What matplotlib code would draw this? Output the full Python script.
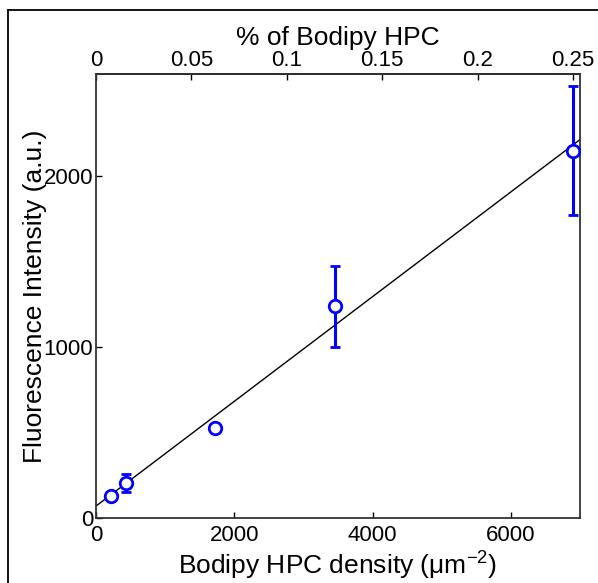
import matplotlib
matplotlib.use("Agg")
from matplotlib import pyplot as plt
from matplotlib.lines import Line2D

plt.rcParams["font.family"] = ["Liberation Sans", "DejaVu Sans"]
plt.rcParams["mathtext.default"] = "regular"

# data
pct_hpc = [0.0078125, 0.015625, 0.0625, 0.125, 0.25]
density = [216, 431, 1725, 3450, 6900]
intensity = [130, 205, 526, 1240, 2150]
intensity_err = [0, 50, 0, 237, 377]

fit_x = [0, 7000]
fit_y = [70, 2216]

PCT_TO_DENSITY = 27600.0

fig = plt.figure(figsize=(5.98, 5.83), dpi=100)
ax = fig.add_axes([96 / 598, 65 / 583, 484 / 598, 444 / 583])

# frame around the figure (cut at the right and bottom, like the reference)
W, H = 598.0, 583.0
fig.add_artist(Line2D([8 / W, 8 / W], [0, 1 - 10 / H], transform=fig.transFigure,
                      color="k", lw=1.3))
fig.add_artist(Line2D([8 / W, 1], [1 - 10 / H, 1 - 10 / H], transform=fig.transFigure,
                      color="k", lw=1.3))

ax.plot(fit_x, fit_y, color="k", lw=1.0, zorder=2)
ax.errorbar(density, intensity, yerr=intensity_err, fmt="o", color="#0000ff",
            mfc="white", mec="#0000ff", ms=9, mew=2, elinewidth=2.2,
            capsize=3.3, capthick=2.2, zorder=3)

ax.set_xlim(0, 7000)
ax.set_ylim(0, 2600)
ax.set_xticks([0, 2000, 4000, 6000])
ax.set_yticks([0, 1000, 2000])
ax.tick_params(direction="in", length=4, width=1, labelsize=16, pad=3)
ax.tick_params(axis="x", pad=5)
ax.tick_params(axis="y", right=False, pad=2)
for s in ax.spines.values():
    s.set_linewidth(1.3)
    s.set_color("#333333")

ax.set_xlabel("Bodipy HPC density (μm$^{-2}$)", fontsize=19, labelpad=3)
ax.set_ylabel("Fluorescence Intensity (a.u.)", fontsize=19)
ax.yaxis.set_label_coords(-0.101, 0.5)

top = ax.secondary_xaxis("top", functions=(lambda x: x / PCT_TO_DENSITY,
                                           lambda p: p * PCT_TO_DENSITY))
top.set_xticks([0, 0.05, 0.1, 0.15, 0.2, 0.25])
top.set_xticklabels(["0", "0.05", "0.1", "0.15", "0.2", "0.25"])
top.tick_params(direction="in", length=4, width=1, labelsize=16, pad=2)
top.spines["top"].set_linewidth(1.3)
top.set_xlabel("% of Bodipy HPC", fontsize=19, labelpad=4)

fig.savefig("out.png", dpi=100)
